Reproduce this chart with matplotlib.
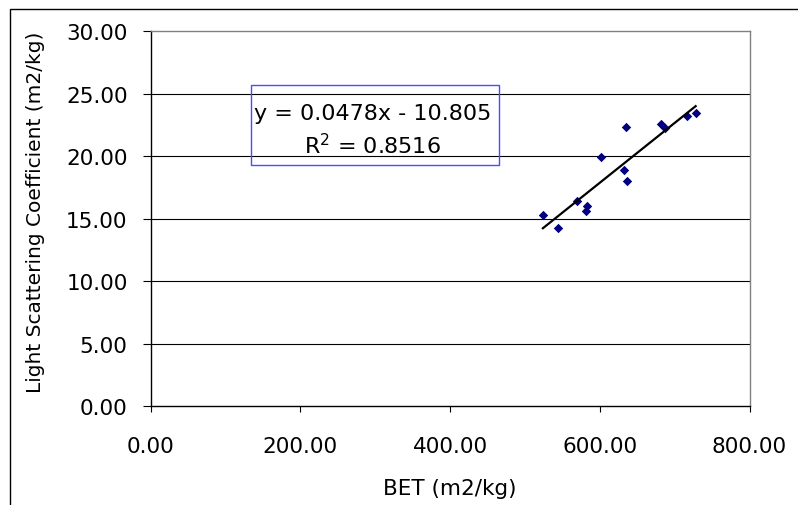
import matplotlib
matplotlib.use("Agg")
import matplotlib.pyplot as plt
from matplotlib.patches import Rectangle
from matplotlib.ticker import FormatStrFormatter
import numpy as np

# BET surface area vs light scattering coefficient
bet = [524, 544, 569, 581, 583, 601, 632, 635, 636, 682, 687, 716, 728]
scatter = [15.30, 14.29, 16.45, 15.60, 16.05, 19.97, 18.88, 22.32, 18.05, 22.58, 22.24, 23.20, 23.44]

# trendline as reported on the chart
slope = 0.0478
intercept = -10.805
r2 = 0.8516

x_ticks = [0, 200, 400, 600, 800]
y_ticks = [0, 5, 10, 15, 20, 25, 30]

plt.rcParams['font.family'] = ['DejaVu Sans']

fig = plt.figure(figsize=(7.98, 5.06), dpi=100)
ax = fig.add_axes([0.1887, 0.1947, 0.7506, 0.7421])

# outer chart border (runs off the right and bottom edges)
fig.patches.append(Rectangle((10 / 798, -0.1), 1.2, 1 - 10 / 506 + 0.1,
                             transform=fig.transFigure, fill=False,
                             edgecolor='black', linewidth=1.0))

ax.set_xlim(0, 800)
ax.set_ylim(0, 30)
ax.set_xticks(x_ticks)
ax.set_yticks(y_ticks)
ax.xaxis.set_major_formatter(FormatStrFormatter('%.2f'))
ax.yaxis.set_major_formatter(FormatStrFormatter('%.2f'))

for y in y_ticks[1:-1]:
    ax.axhline(y, color='black', linewidth=0.8, zorder=1)

ax.spines['top'].set_color('#808080')
ax.spines['right'].set_color('#808080')
ax.spines['left'].set_color('black')
ax.spines['bottom'].set_color('black')
for s in ax.spines.values():
    s.set_linewidth(1.0)

ax.tick_params(axis='y', direction='out', length=6, width=0.8, pad=10.5, labelsize=15.5)
ax.tick_params(axis='x', direction='out', length=4.5, width=0.8, pad=17, labelsize=15.5)

ax.scatter(bet, scatter, marker='D', s=23, color='#000080', zorder=3, linewidths=0)

xs = np.array([min(bet), max(bet)])
ax.plot(xs, slope * xs + intercept, color='black', linewidth=1.6, zorder=4)

# equation box
ax.add_patch(Rectangle((134, 19.32), 331.6, 6.34, fill=False,
                       edgecolor='#4a4aff', linewidth=1.0, zorder=5))
ax.text(296, 23.0, 'y = %.4fx - %.3f' % (slope, -intercept), ha='center',
        va='baseline', fontsize=16, zorder=6)
ax.text(296, 20.25, 'R$^2$ = %.4f' % r2, ha='center', va='baseline',
        fontsize=16, zorder=6)

ax.set_xlabel('BET (m2/kg)', fontsize=15.5)
ax.set_ylabel('Light Scattering Coefficient (m2/kg)', fontsize=14.5)
ax.xaxis.set_label_coords(0.5, -0.19)
ax.yaxis.set_label_coords(-0.176, 0.52)

fig.savefig('out.png', dpi=100)
